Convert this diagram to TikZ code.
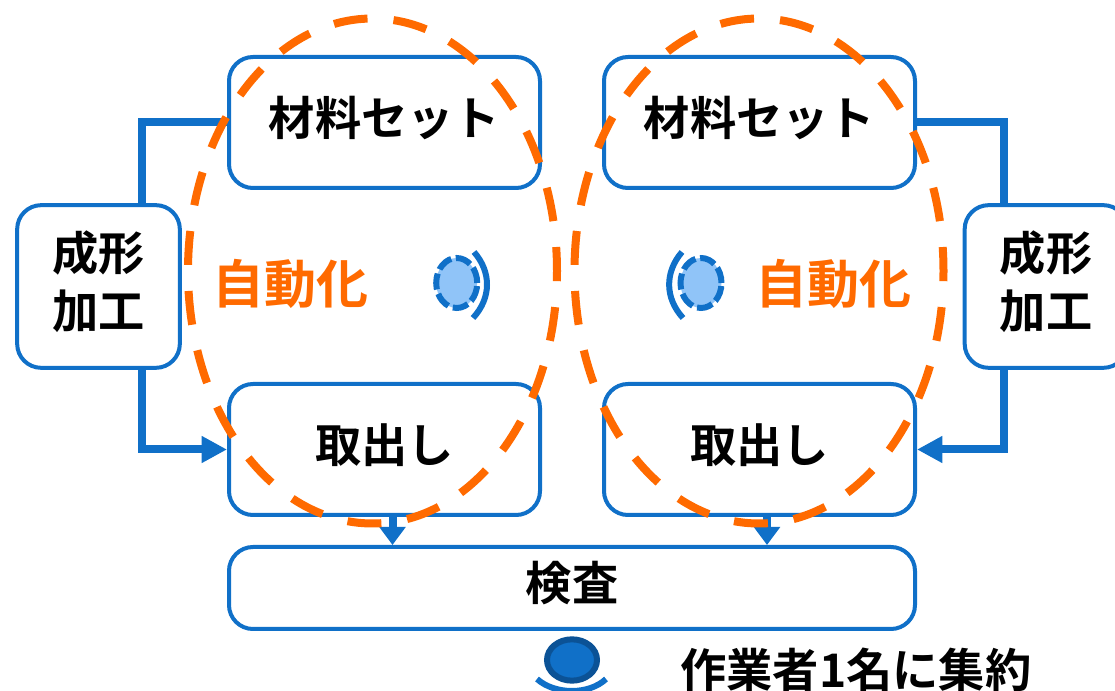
\documentclass[tikz,border=0pt]{standalone}
\usepackage{fontspec}
\setmainfont{Noto Sans CJK JP Bold}
\usetikzlibrary{arrows.meta,calc,shapes.geometric}
\definecolor{bl}{HTML}{1070C8}
\definecolor{dbl}{HTML}{0B5296}
\definecolor{lbl}{HTML}{90C4F8}
\definecolor{org}{HTML}{FF6A00}
\tikzset{
  x=0.75pt,y=-0.75pt,
  box/.style={draw=bl,line width=3pt,rounded corners=18pt,fill=white,minimum width=#1,inner sep=0pt,align=center,text=black,font=\fontsize{34.7pt}{43.5pt}\selectfont,execute at end node={\rule[-10pt]{0pt}{0pt}}},
  link/.style={draw=bl,line width=6pt},
  sidearrow/.style={link,-{Triangle[length=19pt,width=19pt]}},
  downarrow/.style={link,-{Triangle[length=13.5pt,width=19pt]}},
  autoring/.style={draw=org,line width=6pt,dash pattern=on 25.5pt off 19.54pt,dash phase=7.5pt,shape=ellipse,minimum width=276.75pt,minimum height=378.75pt,inner sep=0pt},
  sensor/.style={draw=bl,fill=lbl,line width=4.5pt,dash pattern=on 12pt off 3.5pt,shape=ellipse,minimum width=30.75pt,minimum height=37.5pt,inner sep=0pt},
  wave/.style={draw=bl,line width=4.5pt},
  lab/.style={inner sep=0pt,font=\fontsize{34.7pt}{43.5pt}\selectfont},
  autolab/.style={inner sep=0pt,text=org,font=\fontsize{39pt}{46pt}\selectfont},
  head/.style={draw=dbl,fill=bl,line width=4.5pt,shape=ellipse,minimum width=37.5pt,minimum height=31pt,inner sep=0pt},
}
\begin{document}
\begin{tikzpicture}
\useasboundingbox (0,0) rectangle (1115,691);
\clip (0,0) rectangle (1115,691);
% boxes
\node[box=233.25pt,minimum height=98.25pt] (setL) at (384.5,122.5) {材料セット};
\node[box=233.25pt,minimum height=98.25pt] (setR) at (759.5,122.5) {材料セット};
\node[box=233.25pt,minimum height=98.25pt] (outL) at (384.5,449.5) {取出し};
\node[box=233.25pt,minimum height=98.25pt] (outR) at (759.5,449.5) {取出し};
\node[box=514.5pt,minimum height=61.5pt] (chk) at (572,588) {検査};
\node[box=122pt,minimum height=122pt] (moldL) at (98.5,286.5) {成形\\加工};
\node[box=122pt,minimum height=122pt] (moldR) at (1046,286.5) {成形\\加工};
% connectors
\coordinate (cL1) at ($(moldL.north)+(43,0)$);
\coordinate (cL2) at ($(moldL.south)+(43,0)$);
\coordinate (cR1) at ($(moldR.north)+(-42,0)$);
\coordinate (cR2) at ($(moldR.south)+(-42,0)$);
\draw[link] (setL.west) -| (cL1);
\draw[sidearrow] (cL2) |- (outL.west);
\draw[link] (setR.east) -| (cR1);
\draw[sidearrow] (cR2) |- (outR.east);
\coordinate (dL) at (392.5,515);
\coordinate (dR) at (767,515);
\draw[downarrow] (dL) -- (dL |- chk.north);
\draw[downarrow] (dR) -- (dR |- chk.north);
% automation
\node[autoring] (ringL) at (372.5,271) {};
\node[autoring] (ringR) at (759,271) {};
\node[autolab] (tL) at (290,284) {自動化};
\node[autolab] (tR) at (833,284) {自動化};
\node[sensor] (sL) at (456.7,283) {};
\node[sensor] (sR) at (701,283) {};
\draw[wave] (474,252) .. controls (491.5,272) and (491.5,298) .. (473,318);
\draw[wave] (682,252) .. controls (664.7,272) and (664.7,298) .. (683,318);
% operator
\node[head] (op) at (572,660) {};
\draw[wave] (537,679) .. controls (555,695) and (589,695) .. (606,679);
\node[lab,anchor=west] (oplab) at (680,670) {作業者1名に集約};
\end{tikzpicture}
\end{document}
